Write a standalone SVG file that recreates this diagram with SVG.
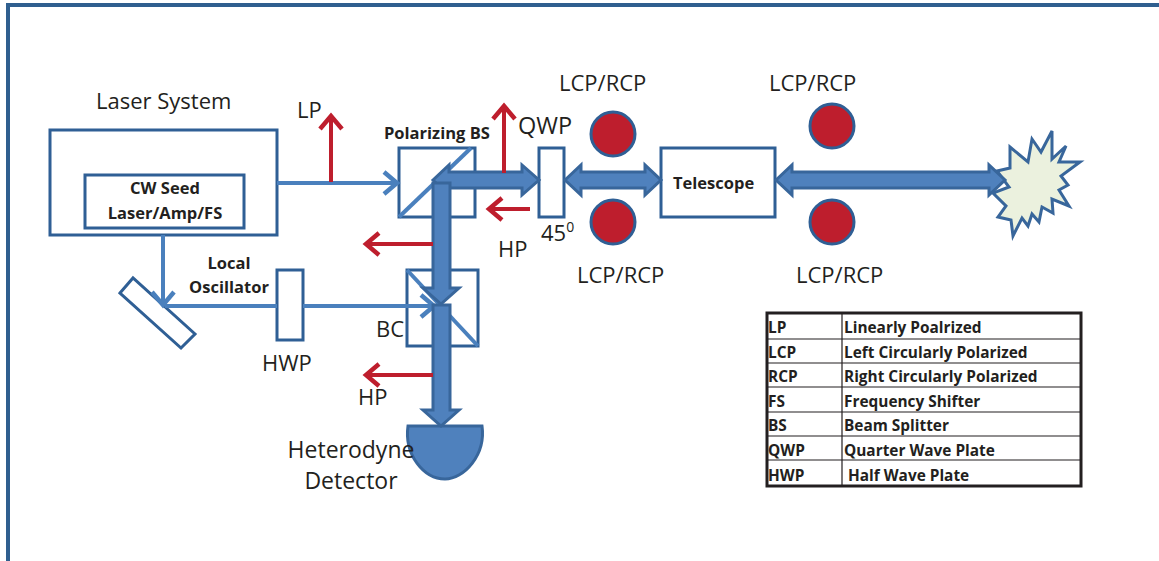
<svg xmlns="http://www.w3.org/2000/svg" width="1159" height="561" viewBox="0 0 1159 561">
<style>
text{font-family:"Open Sans",sans-serif;fill:#231f20}
.l{font-size:22px}
.b{font-size:16.5px;font-weight:700}
.t{font-size:15.4px;font-weight:700}
.box{fill:#fff;stroke:#2f5f95;stroke-width:3}
.thin{fill:none;stroke:#4a80bd;stroke-width:4}
.red{fill:none;stroke:#be1e2d;stroke-width:4}
.fat{fill:#4f81bd;stroke:#38669b;stroke-width:3;stroke-linejoin:miter}
.dot{fill:#be1e2d;stroke:#2f5f95;stroke-width:3}
.tl{stroke:#231f20;stroke-width:1.2}
</style>
<defs>
<marker id="ob" markerUnits="userSpaceOnUse" markerWidth="24" markerHeight="28" refX="20" refY="14" orient="auto"><path d="M7 3 L20 14 L7 25" fill="none" stroke="#4a80bd" stroke-width="4.5"/></marker>
<marker id="or" markerUnits="userSpaceOnUse" markerWidth="24" markerHeight="28" refX="20" refY="14" orient="auto"><path d="M7 3 L20 14 L7 25" fill="none" stroke="#be1e2d" stroke-width="4.5"/></marker>
</defs>
<path id="frame" d="M8 561V5H1159" fill="none" stroke="#2f5f8f" stroke-width="4"/>
<g id="laser-system"><rect class="box" x="50" y="130" width="227" height="105"/><text class="l" x="96" y="109">Laser System</text></g>
<g id="seed-laser"><rect class="box" x="85" y="175" width="159" height="53"/><text class="b" text-anchor="middle" x="165" y="194" font-size="17">CW Seed</text><text class="b" text-anchor="middle" x="165" y="219">Laser/Amp/FS</text></g>
<g id="mirror"><polygon class="box" points="120,293 133,278 195,334 181,348"/></g>
<g id="hwp"><rect class="box" x="277" y="270" width="26" height="70"/><text class="l" x="262" y="371">HWP</text></g>
<g id="local-oscillator"><text class="b" text-anchor="middle" x="229" y="269">Local</text><text class="b" text-anchor="middle" x="229" y="293">Oscillator</text></g>
<g id="polarizing-bs"><rect class="box" x="399" y="148" width="76" height="69"/><path d="M399 217L471 148" class="thin"/><text class="b" x="384" y="139">Polarizing BS</text></g>
<g id="qwp"><rect class="box" x="539" y="148" width="25" height="69"/><text class="l" x="518" y="134" style="font-size:23.5px">QWP</text><text class="l" x="541" y="241">45<tspan font-size="14" dy="-9">0</tspan></text></g>
<g id="telescope"><rect class="box" x="661" y="148" width="114" height="69"/><text class="b" x="673" y="189">Telescope</text></g>
<g id="bc"><rect class="box" x="407" y="270" width="71" height="76"/><path d="M407 270L478 346" class="thin"/><text class="l" x="376" y="337">BC</text></g>
<g id="detector"><path class="fat" d="M408 426H482C486 455 464 479 445 479C424 479 404 455 408 426Z"/><text class="l" text-anchor="middle" x="351" y="458" style="font-size:23px">Heterodyne</text><text class="l" text-anchor="middle" x="351" y="489" style="font-size:23px">Detector</text></g>
<g id="target"><polygon fill="#ebf1de" stroke="#38669b" stroke-width="3" points="997,171 1010,168 1010,147 1028,162 1032,139 1041,152 1052,131 1052,159 1066,146 1059,162 1080,162 1061,176 1068,185 1059,190 1069,206 1052,199 1053,213 1042,207 1039,222 1032,214 1028,226 1022,218 1013,236 1011,220 998,217 1006,206 993,193 1009,187"/></g>
<g id="pol-dots"><circle class="dot" cx="613" cy="134" r="22"/><circle class="dot" cx="613" cy="222" r="22"/><circle class="dot" cx="832" cy="126" r="22"/><circle class="dot" cx="832" cy="222" r="22"/>
<text class="l" x="559" y="91">LCP/RCP</text><text class="l" x="577" y="283">LCP/RCP</text><text class="l" x="769" y="91">LCP/RCP</text><text class="l" x="796" y="283">LCP/RCP</text></g>
<g id="connectors">
<path class="thin" d="M277 183H397" marker-end="url(#ob)"/>
<path class="thin" d="M163 235V305" marker-end="url(#ob)"/>
<path class="thin" d="M165 306H277M303 306H434" marker-end="url(#ob)"/>
<path class="fat" d="M433 180L449 165V172H522V165L539 180L522 195V188H449V195Z"/>
<path class="fat" d="M565 180L581 165V172H645V165L661 180L645 195V188H581V195Z"/>
<path class="fat" d="M776 180L792 165V172H989V165L1005 180L989 195V188H792V195Z"/>
<path class="fat" d="M433 183H450V288H459L441 304L423 288H433Z"/>
<path class="fat" d="M433 305H450V410H459L441 426L423 410H433Z"/>
<path class="red" d="M331 182V116" marker-end="url(#or)"/>
<path class="red" d="M504 173V106" marker-end="url(#or)"/>
<path class="red" d="M530 209H489" marker-end="url(#or)"/>
<path class="red" d="M433 244H366" marker-end="url(#or)"/>
<path class="red" d="M433 375H366" marker-end="url(#or)"/>
</g>
<text class="l" x="297" y="118">LP</text>
<text class="l" x="498" y="257">HP</text>
<text class="l" x="358" y="405">HP</text>
<g id="legend">
<rect x="767" y="313" width="314" height="173" fill="#fff" stroke="#231f20" stroke-width="3"/>
<path class="tl" d="M842 313V486M767 339H1081M767 363H1081M767 387H1081M767 412H1081M767 436H1081M767 460H1081"/>
<text class="t" x="768" y="333">LP</text><text class="t" x="844" y="333">Linearly Poalrized</text>
<text class="t" x="768" y="358">LCP</text><text class="t" x="844" y="358">Left Circularly Polarized</text>
<text class="t" x="768" y="382">RCP</text><text class="t" x="844" y="382">Right Circularly Polarized</text>
<text class="t" x="768" y="407">FS</text><text class="t" x="844" y="407">Frequency Shifter</text>
<text class="t" x="768" y="431">BS</text><text class="t" x="844" y="431">Beam Splitter</text>
<text class="t" x="768" y="456">QWP</text><text class="t" x="844" y="456">Quarter Wave Plate</text>
<text class="t" x="768" y="481">HWP</text><text class="t" x="848" y="481">Half Wave Plate</text>
</g>
</svg>
